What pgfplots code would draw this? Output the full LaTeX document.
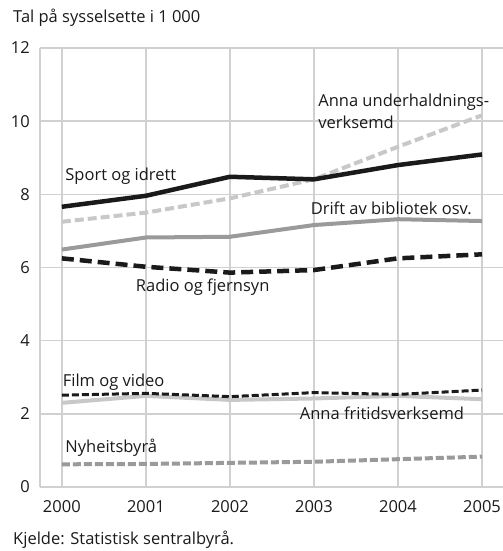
\documentclass[border=0pt]{standalone}
\usepackage{fontspec}
\setmainfont{Open Sans}
\usepackage{pgfplots}
\pgfplotsset{compat=1.18}
\definecolor{gridc}{HTML}{D0D0D0}
\definecolor{blk}{HTML}{1A1A1A}
\definecolor{midg}{HTML}{9A9A9A}
\definecolor{lightg}{HTML}{C8C8C8}
\begin{document}
\fontsize{16.5bp}{19bp}\selectfont
\begin{tikzpicture}
\useasboundingbox (-40bp,-64bp) rectangle (463bp,487bp);
\begin{axis}[
  scale only axis, width=463bp, height=439bp,
  anchor=south west, at={(0,0)},
  xmin=1999.74, xmax=2005.25, ymin=0, ymax=12,
  axis x line*=bottom, axis y line*=left,
  axis line style={gridc, line width=1.5bp},
  xtick={2000,2001,2002,2003,2004,2005},
  xticklabels={2000,2001,2002,2003,2004,2005},
  ytick={0,2,4,6,8,10,12},
  major tick length=0pt,
  grid=major, major grid style={gridc, line width=1.5bp},
  tick label style={font=\fontsize{16.5bp}{19bp}\selectfont, text=blk},
  xticklabel style={anchor=center, yshift=-20bp},
  yticklabel style={anchor=east, inner sep=0pt, xshift=-10bp},
  /pgf/number format/assume math mode=true,
  clip=false,
]
\addplot[lightg, line width=4bp, dash pattern=on 9bp off 4bp] coordinates {(2000,7.25)(2001,7.5)(2002,7.89)(2003,8.41)(2004,9.3)(2005,10.16)};
\addplot[blk, line width=4.5bp] coordinates {(2000,7.66)(2001,7.96)(2002,8.48)(2003,8.41)(2004,8.8)(2005,9.09)};
\addplot[midg, line width=4bp] coordinates {(2000,6.49)(2001,6.82)(2002,6.84)(2003,7.16)(2004,7.32)(2005,7.27)};
\addplot[blk, line width=4.5bp, dash pattern=on 12bp off 6bp] coordinates {(2000,6.25)(2001,6.02)(2002,5.86)(2003,5.93)(2004,6.25)(2005,6.36)};
\addplot[lightg, line width=4bp] coordinates {(2000,2.3)(2001,2.49)(2002,2.38)(2003,2.42)(2004,2.49)(2005,2.4)};
\addplot[blk, line width=3bp, dash pattern=on 7bp off 3bp] coordinates {(2000,2.51)(2001,2.56)(2002,2.47)(2003,2.58)(2004,2.53)(2005,2.65)};
\addplot[midg, line width=4bp, dash pattern=on 8bp off 3bp] coordinates {(2000,0.62)(2001,0.63)(2002,0.66)(2003,0.69)(2004,0.76)(2005,0.83)};
\node[anchor=west, inner sep=0pt, text=blk] at (axis cs:2000.04,8.5) {Sport og idrett};
\node[anchor=west, inner sep=0pt, text=blk] at (axis cs:2000.88,5.46) {Radio og fjernsyn};
\node[anchor=west, inner sep=0pt, text=blk] at (axis cs:2003.05,10.52) {Anna underhaldnings-};
\node[anchor=west, inner sep=0pt, text=blk] at (axis cs:2003.05,9.97) {verksemd};
\node[anchor=west, inner sep=0pt, text=blk] at (axis cs:2002.96,7.62) {Drift av bibliotek osv.};
\node[anchor=west, inner sep=0pt, text=blk] at (axis cs:2000.01,2.87) {Film og video};
\node[anchor=west, inner sep=0pt, text=blk] at (axis cs:2002.83,2.02) {Anna fritidsverksemd};
\node[anchor=west, inner sep=0pt, text=blk] at (axis cs:2000.04,1.07) {Nyheitsbyrå};
\end{axis}
\node[anchor=west, inner sep=0pt, text=blk] at (-27bp,469bp) {Tal på sysselsette i 1 000};
\node[anchor=west, inner sep=0pt, text=blk] at (-27bp,-53bp) {Kjelde: Statistisk sentralbyrå.};
\end{tikzpicture}
\end{document}
